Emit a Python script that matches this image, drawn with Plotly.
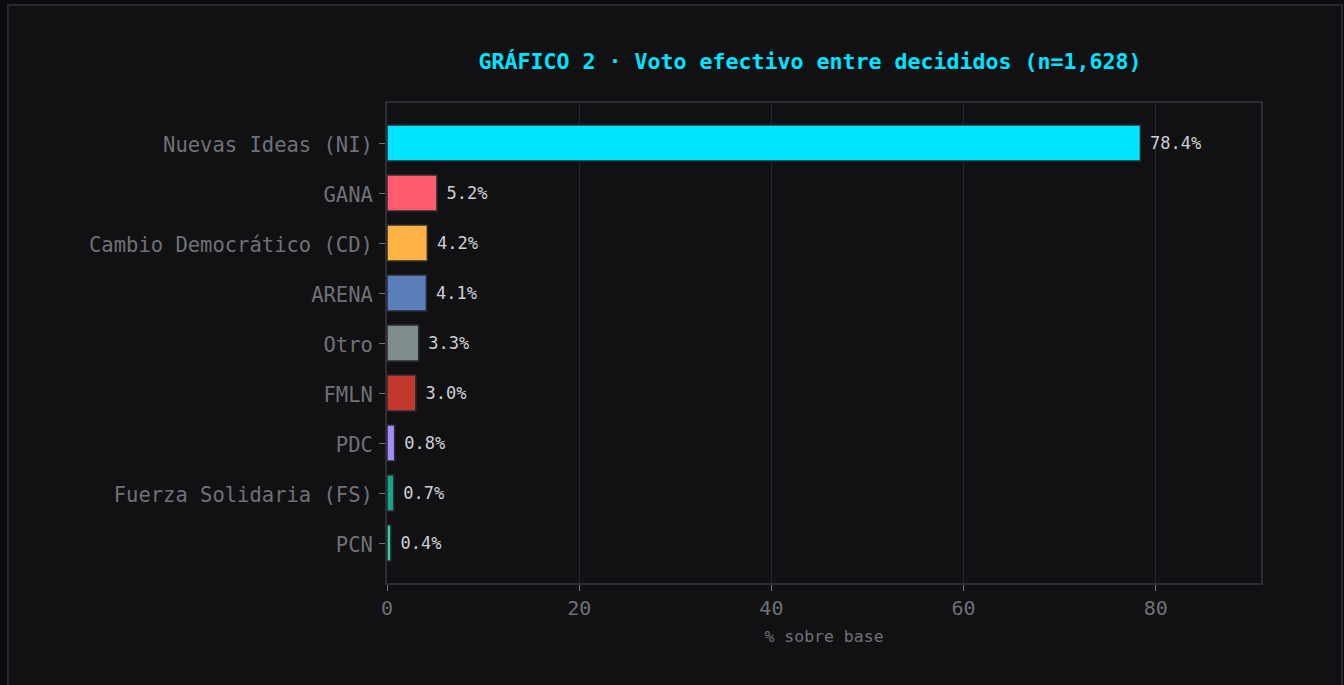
import plotly.graph_objects as go

partidos = ["Nuevas Ideas (NI)", "GANA", "Cambio Democrático (CD)", "ARENA", "Otro",
            "FMLN", "PDC", "Fuerza Solidaria (FS)", "PCN"]
porcentajes = [78.4, 5.2, 4.2, 4.1, 3.3, 3.0, 0.8, 0.7, 0.4]
colores = ["#00e5ff", "#ff5a6e", "#ffb347", "#5b7dba", "#7f8c8d",
           "#c0392b", "#a58bf5", "#17a589", "#34d399"]
etiquetas = ['<span style="font-size:11px"> </span>' + f"{v:.1f}%" for v in porcentajes]

FONT = "DejaVu Sans Mono"
W, H = 1344, 685
ML, MR, MT, MB = 387, 83, 103, 102
pw, ph = W - ML - MR, H - MT - MB


def px_x(p):
    return (p - ML) / pw


def px_y(p):
    return (H - MB - p) / ph


fig = go.Figure(go.Bar(
    x=porcentajes, y=partidos, orientation="h",
    marker=dict(color=colores, line=dict(color="#2b2b31", width=1.5)),
    width=0.72,
    text=etiquetas, textposition="outside", cliponaxis=False,
    textfont=dict(family=FONT, size=17, color="#cfcfd4"),
    hoverinfo="skip",
))

fig.update_layout(
    width=W, height=H,
    paper_bgcolor="#0c0c0e", plot_bgcolor="#111114",
    margin=dict(l=ML, r=MR, t=MT, b=MB),
    showlegend=False,
    title=dict(text="<b>GRÁFICO 2 · Voto efectivo entre decididos (n=1,628)</b>",
               font=dict(family=FONT, size=21.6, color="#00e5ff"),
               x=810 / W, xanchor="center", y=1 - 61 / H, yanchor="middle"),
    font=dict(family=FONT, color="#707076"),
    shapes=[dict(type="rect", xref="paper", yref="paper", layer="below",
                 x0=px_x(8), x1=px_x(1342), y0=px_y(5), y1=px_y(720),
                 fillcolor="#111114", line=dict(color="#28282d", width=2))],
)
fig.update_xaxes(
    range=[0, 78.4 * 1.16], tickvals=[0, 20, 40, 60, 80],
    showgrid=True, gridcolor="#25252a", gridwidth=1, zeroline=False,
    showline=True, linecolor="#2d2d33", linewidth=2, mirror=True,
    ticks="outside", ticklen=6, tickcolor="#707076",
    tickfont=dict(family=FONT, size=20, color="#707076"),
    title=dict(text="% sobre base", font=dict(family=FONT, size=16.5, color="#707076"), standoff=11),
)
fig.update_yaxes(
    categoryorder="array", categoryarray=partidos,
    range=[8.8, -0.8], showgrid=False, zeroline=False,
    showline=True, linecolor="#2d2d33", linewidth=2, mirror=True,
    ticks="outside", ticklen=6, tickcolor="#707076",
    tickfont=dict(family=FONT, size=20.5, color="#707076"),
    ticklabelstandoff=2, ticklabelshift=-2,
)

fig.write_html("out.html", config={"displayModeBar": False},
               post_script="document.body.style.margin='0';document.body.style.background='#0c0c0e';")
